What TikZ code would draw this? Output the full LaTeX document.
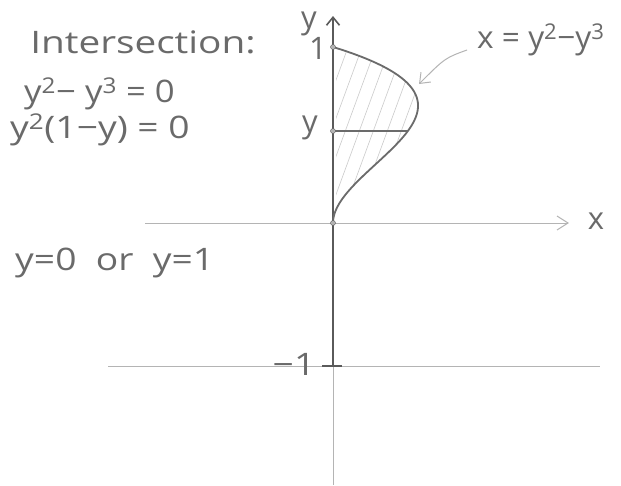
\documentclass[tikz,border=0pt]{standalone}
\usepackage{fontspec}
\setmainfont{Open Sans}
\usetikzlibrary{arrows.meta}
\definecolor{pencil}{HTML}{5A5A5A}
\definecolor{penciltext}{HTML}{6A6A6A}
\definecolor{pencilfaint}{HTML}{B4B4B4}
\tikzset{
  hand/.style={font=\fontsize{31}{34}\selectfont, text=penciltext, inner sep=0pt},
  axisthin/.style={draw=pencilfaint, line width=0.9pt},
  axisthick/.style={draw=pencil, line width=2.2pt},
  curveline/.style={draw=pencil!90, line width=1.8pt},
  hatch/.style={draw=pencilfaint!70, line width=0.6pt},
  pointer/.style={draw=pencilfaint, line width=1pt, -{Straight Barb[length=9pt,width=14pt]}},
  dotmark/.style={circle, draw=pencil, fill=pencilfaint, inner sep=0pt, minimum size=5pt}
}
\begin{document}
\begin{tikzpicture}[x=1pt, y=-1pt]
\useasboundingbox (0,0) rectangle (621,485);
\fill[white] (0,0) rectangle (621,485);
% coordinates
\coordinate (top) at (333,16);
\coordinate (bot) at (333,485);
\coordinate (one) at (333,47);
\coordinate (ys) at (333,131);
\coordinate (orig) at (333,223);
\coordinate (mone) at (333,366);
\coordinate (xl) at (145,223);
\coordinate (xr) at (568,223);
\coordinate (ml) at (108,366);
\coordinate (mr) at (600,366);
\coordinate (ysr) at ({333+574*(0.523*0.523-0.523*0.523*0.523)},131);
% hatching
\begin{scope}
\clip (336,47) -- plot[domain=1:0.12, samples=60] ({333+574*(\x*\x-\x*\x*\x)}, {223-176*\x}) -- (336,{223-176*0.12}) -- cycle;
\foreach \s in {250,264,...,440} {
  \draw[hatch] (\s,200) -- (\s+55,50);
}
\end{scope}
% axes
\draw[axisthin] (xl) -- (xr);
\draw[draw=pencilfaint, line width=1pt] (557,216) -- (568,223) -- (557,230);
\draw[axisthin] (ml) -- (mr);
\draw[axisthin] (bot) -- (mone);
\draw[axisthick] (mone) -- (ys);
\draw[draw=pencil, line width=1.6pt, -{Straight Barb[length=8pt,width=13pt]}] (ys) -- (top);
% tick at -1
\draw[axisthick] (322,366) -- (342,366);
% strip
\draw[curveline] (ys) -- (ysr);
% curve
\draw[curveline] plot[domain=0:1, samples=80] ({333+574*(\x*\x-\x*\x*\x)}, {223-176*\x});
% dots
\node[dotmark] (d1) at (one) {};
\node[dotmark] (d2) at (ys) {};
\node[dotmark] (d3) at (orig) {};
% labels
\node[hand] (ylab) at (309,24) {y};
\node[hand] (onelab) at (318,48) {1};
\node[hand] (ylab2) at (310,128) {y};
\node[hand] (xlab) at (596,221) {x};
\node[hand, xscale=1.2] (mlab) at (294,364) {−1};
% arrow to curve
\coordinate (pa) at (467,50);
\coordinate (pb) at (419,84);
\draw[pointer] (pa) .. controls (445,58) .. (pb);
\node[hand, anchor=west, xscale=1.02] (eqx) at (477,40) {x = y\textsuperscript{2}−y\textsuperscript{3}};
% left text
\node[hand, anchor=west, xscale=1.25] (inter) at (30,42) {Intersection:};
\node[hand, anchor=west, xscale=1.12] (e1) at (24,94) {y\textsuperscript{2}− y\textsuperscript{3} = 0};
\node[hand, anchor=west, xscale=1.2] (e2) at (10,130) {y\textsuperscript{2}(1−y) = 0};
\node[hand, anchor=west, xscale=1.2] (e3) at (15,263) {y=0\ \ or\ \ y=1};
\end{tikzpicture}
\end{document}
